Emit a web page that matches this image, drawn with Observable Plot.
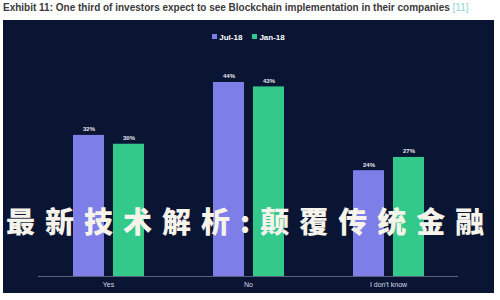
<!DOCTYPE html>
<html>
<head>
<meta charset="utf-8">
<script src="https://cdn.jsdelivr.net/npm/d3@7"></script>
<script src="https://cdn.jsdelivr.net/npm/@observablehq/plot@0.6"></script>
<style>
  html, body { margin: 0; padding: 0; background: #ffffff; width: 500px; height: 300px; overflow: hidden; position: relative; font-family: "Liberation Sans", Arial, sans-serif; }
  #title { position: absolute; left: 3px; top: 2px; font-size: 10px; font-weight: bold; color: #3a3a3a; white-space: nowrap; }
  #title span { color: #8fd3d8; font-weight: normal; }
  #panel { position: absolute; left: 3px; top: 20px; width: 491px; height: 273px; background: #0a1433; }
  #legend { position: absolute; left: 0; top: 13px; width: 100%; text-align: center; font-size: 8px; font-weight: bold; color: #ffffff; }
  #legend .item { display: inline-block; margin: 0 5px; }
  #legend .sw { display: inline-block; width: 5px; height: 5px; margin-right: 2px; vertical-align: 1px; }
  #chart { position: absolute; left: 0; top: 30px; }
  #overlay { position: absolute; left: 6px; top: 206px; font-family: "Noto Sans CJK SC", sans-serif; font-weight: 900; font-size: 29px; letter-spacing: 10px; color: #f6f3ea; white-space: nowrap; line-height: 1; }
</style>
</head>
<body>
<div id="title">Exhibit 11: One third of investors expect to see Blockchain implementation in their companies <span>[11]</span></div>
<div id="panel">
  <div id="legend"></div>
  <div id="chart"></div>
</div>
<div id="overlay">最新技术解析:颠覆传统金融</div>
<script>
const categories = ["Yes", "No", "I don't know"];
const seriesNames = ["Jul-18", "Jan-18"];
const jul18 = [32, 44, 24];
const jan18 = [30, 43, 27];
const colors = ["#7e7ee8", "#33c98b"];

const data = [];
categories.forEach((c, i) => {
  data.push({category: c, series: seriesNames[0], value: jul18[i]});
  data.push({category: c, series: seriesNames[1], value: jan18[i]});
});

const legend = document.getElementById("legend");
seriesNames.forEach((s, i) => {
  const it = document.createElement("span");
  it.className = "item";
  it.innerHTML = `<span class="sw" style="background:${colors[i]}"></span>${s}`;
  legend.appendChild(it);
});

const maxV = d3.max(data, d => d.value);

const chart = Plot.plot({
  width: 491,
  height: 243,
  marginLeft: 35,
  marginRight: 36,
  marginTop: 32,
  marginBottom: 17,
  style: { background: "transparent", fontFamily: "Liberation Sans, Arial, sans-serif" },
  fx: { domain: categories, padding: 0, label: null, axis: "bottom", tickSize: 0, tickPadding: 6 },
  x: { domain: seriesNames, paddingInner: 0.225, paddingOuter: 0.8625, axis: null },
  y: { domain: [0, maxV], axis: null },
  color: { domain: seriesNames, range: colors },
  marks: [
    Plot.barY(data, { fx: "category", x: "series", y: "value", fill: "series" }),
    Plot.text(data, { fx: "category", x: "series", y: "value", text: d => d.value + "%", dy: -6, fill: "#e8e8f0", fontSize: 6, fontWeight: "bold" }),
    Plot.ruleY([0], { stroke: "#5d6480", strokeWidth: 1 })
  ]
});
chart.querySelectorAll("g[aria-label='fx-axis tick label'] text").forEach(t => {
  t.setAttribute("fill", "#d8dae6");
  t.setAttribute("font-size", "7");
});
document.getElementById("chart").appendChild(chart);
</script>
</body>
</html>
